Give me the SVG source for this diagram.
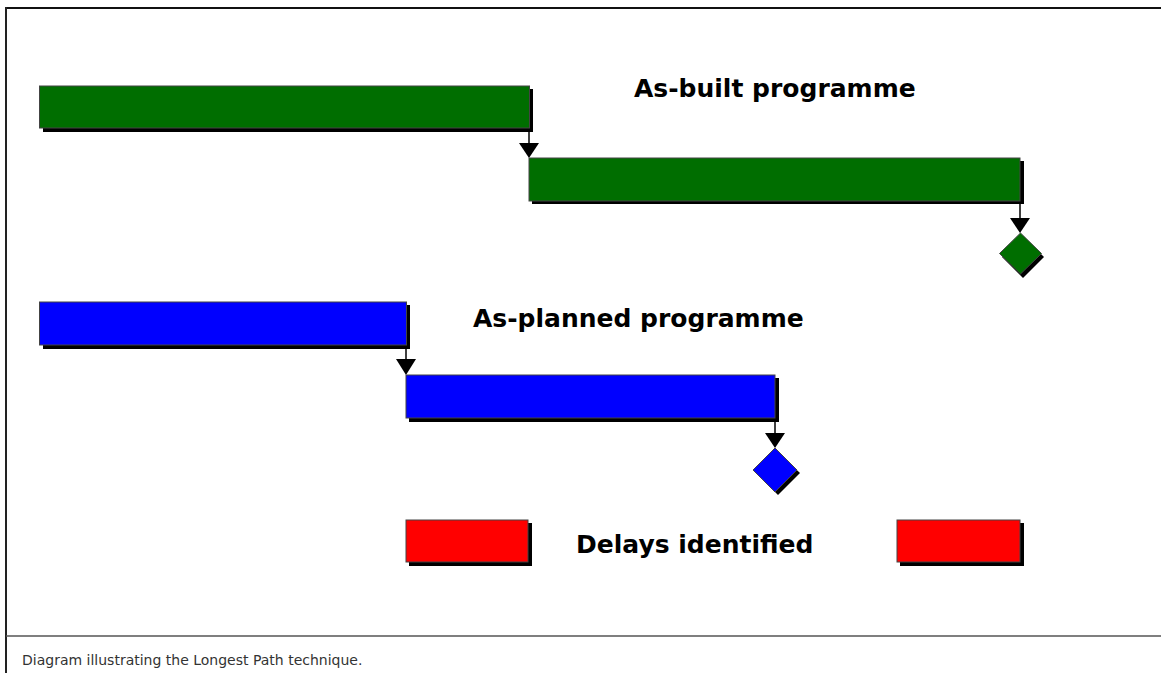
<svg xmlns="http://www.w3.org/2000/svg" width="1161" height="673" viewBox="0 0 1161 673">
  <style>
    .shadow { fill: #000; }
    .bar { stroke: #444; stroke-width: 1; }
    .built { fill: #006e00; }
    .planned { fill: #0000ff; }
    .delay { fill: #ff0000; }
    .title { font-family: "DejaVu Sans", Verdana, sans-serif; font-weight: bold; font-size: 25px; fill: #000; }
    .caption { font-family: "DejaVu Sans", Verdana, sans-serif; font-size: 14px; fill: #333; }
    .link { stroke: #000; stroke-width: 1.5; fill: none; }
    .head { fill: #000; }
  </style>

  <!-- frame -->
  <rect x="0" y="0" width="1161" height="673" fill="#fff"/>
  <line x1="6" y1="8" x2="1161" y2="8" stroke="#111" stroke-width="2"/>
  <line x1="6" y1="7" x2="6" y2="673" stroke="#222" stroke-width="2"/>
  <line x1="6" y1="636" x2="1161" y2="636" stroke="#555" stroke-width="1.5"/>

  <!-- connectors -->
  <g id="connectors">
    <line class="link" x1="529" y1="128" x2="529" y2="150"/>
    <polygon class="head" points="519,143 539,143 529,158"/>
    <line class="link" x1="1020" y1="201" x2="1020" y2="225"/>
    <polygon class="head" points="1010,218 1030,218 1020,233"/>
    <line class="link" x1="406" y1="345" x2="406" y2="366"/>
    <polygon class="head" points="396,359 416,359 406,375"/>
    <line class="link" x1="775" y1="418" x2="775" y2="440"/>
    <polygon class="head" points="765,433 785,433 775,448"/>
  </g>

  <!-- as-built programme -->
  <g id="built-task-1">
    <rect class="shadow" x="43" y="89" width="490" height="43"/>
    <rect class="bar built" x="39.5" y="86" width="490" height="42"/>
  </g>
  <g id="built-task-2">
    <rect class="shadow" x="532" y="161" width="492" height="43"/>
    <rect class="bar built" x="529" y="158" width="491" height="43"/>
  </g>
  <g id="built-finish">
    <polygon class="shadow" points="1023,236 1044,257 1023,278 1002,257"/>
    <polygon class="bar built" points="1020.5,233 1041.5,253.5 1020.5,274 999.5,253.5"/>
  </g>
  <g id="built-label">
    <text class="title" x="634" y="97">As-built programme</text>
  </g>

  <!-- as-planned programme -->
  <g id="planned-task-1">
    <rect class="shadow" x="43" y="305" width="367" height="44"/>
    <rect class="bar planned" x="39.5" y="302" width="367" height="43"/>
  </g>
  <g id="planned-task-2">
    <rect class="shadow" x="409" y="378" width="370" height="44"/>
    <rect class="bar planned" x="406" y="375" width="369" height="43"/>
  </g>
  <g id="planned-finish">
    <polygon class="shadow" points="778,452 800,473 778,495 756,473"/>
    <polygon class="bar planned" points="775,448 797,470 775,492 753,470"/>
  </g>
  <g id="planned-label">
    <text class="title" x="473" y="327">As-planned programme</text>
  </g>

  <!-- delays -->
  <g id="delay-1">
    <rect class="shadow" x="409" y="523" width="123" height="43"/>
    <rect class="bar delay" x="406" y="520" width="122" height="42"/>
  </g>
  <g id="delay-label">
    <text class="title" x="576" y="553">Delays identified</text>
  </g>
  <g id="delay-2">
    <rect class="shadow" x="900" y="523" width="124" height="43"/>
    <rect class="bar delay" x="897" y="520" width="123" height="42"/>
  </g>

  <!-- caption -->
  <g id="caption">
    <text class="caption" x="22" y="665">Diagram illustrating the Longest Path technique.</text>
  </g>
</svg>
